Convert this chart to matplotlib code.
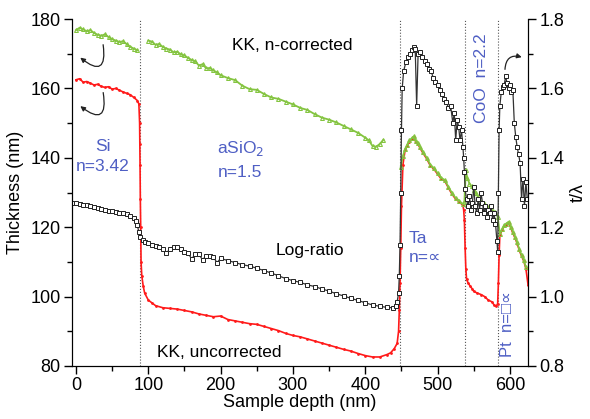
import matplotlib
matplotlib.use('Agg')
import matplotlib.pyplot as plt
import numpy as np
from matplotlib.ticker import MultipleLocator, FormatStrFormatter
from matplotlib.patches import FancyArrowPatch

plt.rcParams['font.family'] = ['Liberation Sans', 'DejaVu Sans']
plt.rcParams['font.size'] = 13

nan = np.nan

# KK, n-corrected (green)
green_x = [0, 5, 10, 15, 20, 25, 30, 35, 40, 45, 50, 55, 60, 65, 70, 75, 80, 85, nan,
           100, 105, 110, 115, 120, 125, 130, 135, 140, 145, 150, 155, 160, 165, 170, 175, 180, 185, 190,
           195, 200, 210, 220, 230, 240, 250, 260, 270, 280, 290, 300, 310, 320, 330, 340, 350, 360, 370,
           380, 390, 400, 405, 410, 415, 420, 425, nan,
           449, 452, 455, 458, 461, 464, 467, 470, 473, 476, 480, 485, 490, 495, 500, 505, 510, 515, 520,
           525, 530, 535, 537, 539, 541, 544, 547, 550, 553, 556, 560, 564, 568, 572, 576, 580, 583,
           586, 589, 592, 595, 598, 601, 604, 607, 610, 613, 616, 619, 622]
green_y = [176.8, 177.5, 177.0, 176.5, 176.8, 176.0, 175.5, 175.2, 175.6, 174.8, 174.2, 173.8, 173.4,
           173.6, 172.8, 172.0, 171.5, 171.0, nan,
           173.8, 173.5, 172.6, 172.8, 172.0, 171.5, 171.2, 170.4, 170.6, 169.8, 169.5, 168.8, 168.2, 167.8,
           166.6, 167.0, 165.8, 165.9, 165.2, 164.6, 163.8, 163.0, 162.4, 160.8, 159.8, 159.6, 158.4, 157.4,
           157.0, 156.2, 155.4, 154.4, 153.8, 152.6, 151.6, 151.0, 150.2, 149.2, 148.2, 147.2, 145.8, 145.0,
           143.4, 143.2, 144.0, 145.2, nan,
           137.4, 140.5, 142.5, 143.8, 145.0, 145.6, 146.2, 144.8, 144.2, 143.0, 141.6, 140.0, 138.0, 137.0,
           135.6, 134.2, 133.6, 131.6, 129.8, 128.4, 127.6, 126.6, 127.4, 136.5, 134.2, 132.6, 131.8,
           130.6, 129.8, 128.6, 127.4, 127.0, 126.2, 125.6, 124.6, 124.4, 123.0,
           118.0, 119.4, 120.6, 121.0, 121.6, 120.2, 118.6, 117.2, 115.6, 113.6, 112.0, 110.6, 108.4]

# KK, uncorrected (red)
red_x = [0, 5, 10, 15, 20, 25, 30, 35, 40, 45, 50, 55, 60, 65, 70, 75, 80, 85, 87, 88, 88.3, 88.6, 89,
         89.5, 90, 91, 93, 95, 100, 105, 110, 120, 130, 140, 150, 160, 170, 180, 190, 200, 210, 220, 230,
         240, 250, 260, 270, 280, 290, 300, 310, 320, 330, 340, 350, 360, 370, 380, 390, 400, 410, 420,
         430, 435, 440, 444, 446, 447, 448, 449, 450, 452, 455, 458, 461, 464, 467, 470, 473, 476, 480,
         485, 490, 495, 500, 505, 510, 515, 520, 525, 530, 535, 536, 537, 538, 539, 540, 542, 545, 548,
         550, 555, 560, 565, 570, 575, 578, 581, 583, 584, 585, 586, 589, 592, 595, 598, 601, 604, 607,
         610, 613, 616, 619, 622, 625]
red_y = [162.5, 162.8, 161.8, 162.0, 161.5, 161.0, 161.2, 160.6, 160.3, 160.5, 159.8, 160.0, 159.5,
         159.0, 158.6, 158.2, 157.4, 156.5, 155.5, 150.0, 144.0, 138.0, 128.0, 120.0, 110.0, 106.0, 103.0,
         101.0, 99.0, 98.2, 97.4, 96.8, 96.6, 96.4, 96.0, 95.6, 95.0, 94.6, 94.2, 94.4, 93.4, 93.0, 92.6,
         92.2, 92.0, 91.4, 90.8, 90.2, 89.4, 88.8, 88.4, 87.8, 87.2, 86.6, 86.0, 85.4, 84.8, 84.3, 83.6,
         83.0, 82.6, 82.6, 83.3, 83.8, 85.0, 86.5, 90.0, 96.0, 104.0, 114.0, 126.0, 138.0, 142.2, 143.5,
         144.7, 145.3, 145.9, 144.5, 143.9, 142.7, 141.3, 139.7, 137.7, 136.7, 135.3, 133.9, 133.3, 131.3,
         129.5, 128.1, 127.3, 126.3, 125.0, 122.0, 114.0, 108.0, 105.0, 104.0, 103.0, 102.2, 101.5, 101.0,
         100.6, 100.0, 99.0, 98.5, 97.6, 97.2, 98.0, 104.0, 112.0, 117.7, 119.1, 120.3, 120.7, 121.3, 119.9,
         118.3, 116.9, 115.3, 113.3, 111.7, 110.3, 108.1, 103.4]

# Log-ratio (black)
black_x = [-4, 0, 5, 10, 15, 20, 25, 30, 35, 40, 45, 50, 55, 60, 65, 70, 75, 80, 83, 85, 87, 89, 92,
           95, 100, 105, 110, 115, 120, 125, 130, 135, 140, 145, 150, 155, 160, 165, 170, 175, 180, 185,
           190, 195, 200, 210, 220, 230, 240, 250, 260, 270, 280, 290, 300, 310, 320, 330, 340, 350, 360,
           370, 380, 390, 400, 410, 420, 430, 438, 442, 444, 446, 447, 448, 449, 450, 451, 453, 456, 459,
           462, 465, 467, 469, 471, 473, 476, 479, 482, 485, 488, 491, 494, 497, 500, 503, 506, 509, 512,
           515, 518, 521, 523, 525, 527, 529, 531, 533, 535, 536, 537, 538, 540, 542, 544, 546, 548, 550,
           552, 554, 556, 558, 560, 562, 564, 566, 568, 570, 572, 574, 576, 578, 580, 582, 583, 584, 585,
           586, 588, 590, 592, 594, 596, 598, 600, 602, 604, 606, 608, 610, 612, 614, 616, 618, 620, 622, 624]
black_y = [127.0, 127.0, 126.8, 126.5, 126.4, 126.0, 125.8, 125.5, 125.2, 125.0, 124.8, 124.6, 124.4,
           124.2, 124.0, 123.8, 123.3, 122.6, 121.8, 120.5, 118.5, 117.2, 116.2, 115.6, 115.4, 115.0, 114.6,
           114.2, 113.6, 112.5, 113.8, 114.4, 114.2, 113.6, 113.0, 112.6, 110.8, 112.4, 112.2, 110.6, 111.8,
           111.8, 111.4, 109.8, 111.0, 110.4, 109.8, 109.2, 108.8, 108.2, 107.5, 106.8, 106.0, 105.2, 104.6,
           104.1, 103.4, 102.9, 102.2, 101.6, 100.8, 100.2, 99.5, 98.9, 98.2, 97.6, 97.2, 96.9, 96.8, 97.3,
           98.5, 101.0, 106.0, 115.0, 130.0, 148.0, 160.0, 165.0, 167.5, 169.0, 170.0, 171.0, 172.0, 171.5,
           155.0, 170.0, 170.5, 169.0, 168.0, 167.0, 165.5, 165.0, 163.0, 162.0, 161.0, 159.5, 158.5, 157.0,
           156.0, 154.5, 155.0, 150.0, 153.0, 145.0, 151.0, 149.0, 145.0, 148.0, 143.0, 140.0, 136.0, 131.0,
           128.0, 126.0, 129.0, 125.0, 127.0, 131.5, 126.0, 124.0, 128.0, 125.0, 130.0, 127.0, 124.0, 126.0,
           123.0, 125.0, 124.0, 126.0, 122.0, 124.0, 121.0, 116.0, 113.0, 130.0, 148.0, 155.0, 159.0,
           160.5, 161.0, 163.5, 161.5, 160.0, 161.0, 159.0, 159.5, 150.0, 146.0, 143.0, 141.0, 138.5, 128.0,
           134.0, 126.0, 133.0, 128.0]

boundaries = [88, 448, 538, 583]
blue = '#4f5fc4'

fig = plt.figure(figsize=(5.9, 4.19), dpi=100)
ax = fig.add_axes([0.122, 0.1265, 0.773, 0.828])

for b in boundaries:
    ax.axvline(b, color='#555555', ls=':', lw=0.8, zorder=1)

ax.plot(red_x, red_y, color='#ff1a1a', lw=1.2, marker='o', ms=2.0, mew=0, zorder=2)
ax.plot(green_x, green_y, color='#84c440', lw=1.3, marker='^', ms=2.8, mfc='none', mew=0.8, zorder=3)
ax.plot(black_x, black_y, color='#333333', lw=0.9, marker='s', ms=3.4, mfc='white', mec='#222222',
        mew=0.7, zorder=4)

ax.set_xlim(-5.5, 625)
ax.set_ylim(80, 180)
ax.xaxis.set_major_locator(MultipleLocator(100))
ax.xaxis.set_minor_locator(MultipleLocator(50))
ax.yaxis.set_major_locator(MultipleLocator(20))
ax.yaxis.set_minor_locator(MultipleLocator(10))
ax.tick_params(which='major', direction='out', length=6, width=1, pad=2)
ax.tick_params(which='minor', direction='out', length=3.5, width=1)
ax.spines['top'].set_visible(False)
ax.set_xlabel('Sample depth (nm)', labelpad=0)
ax.set_ylabel('Thickness (nm)', labelpad=5)

ax2 = ax.twinx()
ax2.set_ylim(0.8, 1.8)
ax2.yaxis.set_major_locator(MultipleLocator(0.2))
ax2.yaxis.set_minor_locator(MultipleLocator(0.1))
ax2.yaxis.set_major_formatter(FormatStrFormatter('%.1f'))
ax2.tick_params(which='major', direction='out', length=6, width=1, pad=2)
ax2.tick_params(which='minor', direction='out', length=3.5, width=1)
ax2.spines['top'].set_visible(False)
ax2.set_ylabel('t/λ', labelpad=4)

ax.text(299, 172.5, 'KK, n-corrected', ha='center', va='center', fontsize=12.5)
ax.text(323, 113.4, 'Log-ratio', ha='center', va='center', fontsize=12.5)
ax.text(198, 84, 'KK, uncorrected', ha='center', va='center', fontsize=12.5)
ax.text(37, 140.5, 'Si\nn=3.42', ha='center', va='center', color=blue, fontsize=12.5, linespacing=1.4)
ax.text(227, 139.6, 'aSiO$_2$\nn=1.5', ha='center', va='center', color=blue, fontsize=12.5,
        linespacing=1.6)
ax.text(460, 114, 'Ta\nn=∝', ha='left', va='center', color=blue, fontsize=12.5, linespacing=1.4)
ax.text(561, 163, 'CoO  n=2.2', ha='center', va='center', rotation=90, color=blue, fontsize=12.5)
ax.text(597, 92, 'Pt  n=□∝', ha='center', va='center', rotation=90, color=blue, fontsize=12)

arrow_kw = dict(arrowstyle='-|>', mutation_scale=7, color='#222222', lw=0.9, zorder=5)
ax.add_patch(FancyArrowPatch((37, 173.4), (3, 169.4), connectionstyle='arc3,rad=-1.35', **arrow_kw))
ax.add_patch(FancyArrowPatch((37, 159.6), (3, 155.4), connectionstyle='arc3,rad=-1.35', **arrow_kw))
ax.add_patch(FancyArrowPatch((593, 164.7), (620, 168.8), connectionstyle='arc3,rad=-0.7', **arrow_kw))

fig.savefig('out.png', dpi=100)
